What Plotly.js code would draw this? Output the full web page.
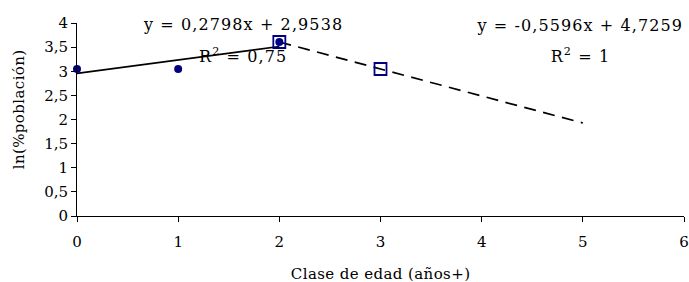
<!DOCTYPE html>
<html><head><meta charset="utf-8">
<script src="https://cdn.plot.ly/plotly-3.0.1.min.js"></script>
<style>html,body{margin:0;padding:0;background:#fff}#c{width:689px;height:282px}
#c .annotation-text.eqn{letter-spacing:1.1px}
#c .annotation-text.ttl{letter-spacing:0.4px}</style>
</head><body><div id="c"></div>
<script>
// Observed data (age class vs ln(% population))
const edadObs = [0, 1, 2];
const lnObs = [3.0471, 3.0471, 3.6067];
// Second series (squares)
const edadSq = [2, 3];
const lnSq = [3.6067, 3.0471];
// Trendline endpoints
const trend1X = [0, 2];
const trend1Y = [2.9538, 3.5134];
const trend2X = [2, 5];
const trend2Y = [3.6067, 1.9279];
const eq1 = 'y = 0,2798x + 2,9538';
const r1 = 'R<sup>2</sup> = 0,75';
const eq2 = 'y = -0,5596x + 4,7259';
const r2 = 'R<sup>2</sup> = 1';
const xTitle = 'Clase de edad (años+)';
const yTitle = 'ln(%población)';

const F = 'DejaVu Serif, serif';
const traces = [
  {x: trend2X, y: trend2Y, mode: 'lines', line: {color: '#000', width: 1.7, dash: '12px,7.5px'}, cliponaxis: false},
  {x: trend1X, y: trend1Y, mode: 'lines', line: {color: '#000', width: 1.7}, cliponaxis: false},
  {x: edadSq, y: lnSq, mode: 'markers', marker: {symbol: 'square-open', size: 12, color: '#000080', line: {width: 1.8, color: '#000080'}}, cliponaxis: false},
  {x: edadObs, y: lnObs, mode: 'markers', marker: {symbol: 'circle', size: 8, color: '#000080'}, cliponaxis: false}
];
const px = v => (v - 77) / 607, py = v => (216 - v) / 193;
const layout = {
  width: 689, height: 282,
  margin: {l: 77, r: 5, t: 23, b: 66},
  paper_bgcolor: '#fff', plot_bgcolor: '#fff',
  showlegend: false,
  separators: ',.',
  font: {family: F, size: 15, color: '#000'},
  xaxis: {range: [0, 6], dtick: 1, tick0: 0, showgrid: false, zeroline: false, showline: true, linecolor: '#000', linewidth: 1,
    ticks: 'outside', ticklen: 5, tickcolor: '#000', tickfont: {family: F, size: 15}, ticklabelstandoff: 7},
  yaxis: {range: [0, 4], dtick: 0.5, tick0: 0, showgrid: false, zeroline: false, showline: true, linecolor: '#000', linewidth: 1,
    ticks: 'outside', ticklen: 5, tickcolor: '#000', tickfont: {family: F, size: 15}},
  annotations: [
    {x: 243, y: 24, text: eq1},
    {x: 243, y: 55, text: r1},
    {x: 580, y: 25, text: eq2},
    {x: 580, y: 55, text: r2}
  ].map(a => ({text: a.text, showarrow: false, xref: 'paper', yref: 'paper',
     x: px(a.x), y: py(a.y), xanchor: 'center', yanchor: 'middle',
     font: {family: F, size: 16, color: '#000'}})).concat([
    {text: xTitle, showarrow: false, xref: 'paper', yref: 'paper', x: px(380), y: py(274),
     xanchor: 'center', yanchor: 'middle', font: {family: F, size: 15, color: '#000'}},
    {text: yTitle, showarrow: false, xref: 'paper', yref: 'paper', x: px(18.5), y: py(110), textangle: -90,
     xanchor: 'center', yanchor: 'middle', font: {family: F, size: 15, color: '#000'}}
  ])
};
Plotly.newPlot('c', traces, layout, {displayModeBar: false, staticPlot: true}).then(() => {
  document.querySelectorAll('#c .annotation-text').forEach((t, i) => { t.classList.add(i < 4 ? 'eqn' : 'ttl'); });
});
</script></body></html>
